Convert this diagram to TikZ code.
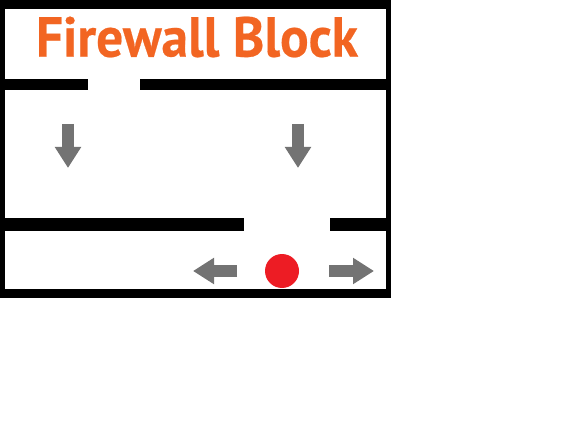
\documentclass[tikz,border=0pt]{standalone}
\usepackage{fontspec}
\usepackage{xcolor}
\usepackage{tikz}
\usetikzlibrary{arrows.meta}
\setmainfont{PT Sans}
\newfontfamily\titlefont[BoldFeatures={FakeBold=0.4}]{PT Sans}
\definecolor{fwOrange}{HTML}{F26522}
\definecolor{fwGray}{HTML}{737373}
\definecolor{fwRed}{HTML}{ED1C24}
\tikzset{
  flowArrow/.style={draw=fwGray,line width=12pt,-{Triangle[length=21pt,width=25pt]}}
}

\begin{document}
\begin{tikzpicture}[x=1pt,y=-1pt]
  \useasboundingbox (0,0) rectangle (567,430);
  % outer frame
  \foreach \xa/\ya/\xb/\yb in {0/0/391/9,0/0/5/298,386/0/391/298,0/289/391/298}{
    \fill[black] (\xa,\ya) rectangle (\xb,\yb);
  }
  % walls with gaps
  \foreach \xa/\ya/\xb/\yb in {0/79/88/90,140/79/391/90,0/218/244/231,330/218/391/231}{
    \fill[black] (\xa,\ya) rectangle (\xb,\yb);
  }

  % title
  \node[text=fwOrange,font=\titlefont\bfseries,inner sep=0pt] (title) at (197,37) {\resizebox{322pt}{40pt}{Firewall Block}};

  % flow arrows
  \foreach \xa/\ya/\xb/\yb in {68/124/68/168,298/124/298/168,237/271/193/271,329/271/374/271}{
    \draw[flowArrow] (\xa,\ya) -- (\xb,\yb);
  }
  % packet
  \fill[fwRed] (282,271) circle (17);
\end{tikzpicture}
\end{document}
